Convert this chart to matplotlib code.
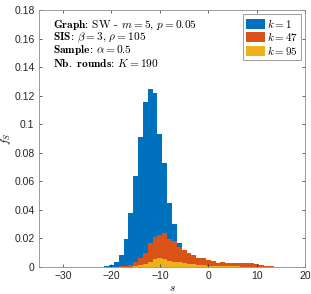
import numpy as np
import matplotlib
matplotlib.use("Agg")
import matplotlib.pyplot as plt

plt.rcParams['mathtext.fontset'] = 'cm'
plt.rcParams['font.family'] = ['Liberation Sans', 'DejaVu Sans']

# histogram bins (centres, width 1)
s_bins = np.arange(-22, 17)

# k = 1
f_k1 = [0.0002, 0.0006, 0.0016, 0.0037, 0.0084, 0.0194, 0.038, 0.064, 0.091,
        0.1153, 0.1245, 0.122, 0.093, 0.0726, 0.045, 0.030, 0.017, 0.008,
        0.004, 0.002, 0.001, 0.0005, 0, 0, 0, 0, 0, 0, 0, 0, 0, 0, 0, 0, 0,
        0, 0, 0, 0]
# k = 47
f_k47 = [0, 0, 0, 0.0002, 0.0004, 0.0008, 0.0015, 0.0035, 0.006, 0.0098,
         0.0168, 0.0208, 0.0222, 0.0236, 0.0194, 0.0184, 0.0142, 0.0122,
         0.0100, 0.0084, 0.0065, 0.0062, 0.0050, 0.0040, 0.0028, 0.0033,
         0.0025, 0.0025, 0.0026, 0.0028, 0.0030, 0.0028, 0.0018, 0.0012,
         0.0008, 0.0005, 0.0003, 0.0002, 0.0001]
# k = 95
f_k95 = [0, 0, 0, 0, 0, 0.0001, 0.0003, 0.0006, 0.0013, 0.0022, 0.0037,
         0.0054, 0.0065, 0.0057, 0.0042, 0.0035, 0.0033, 0.0028, 0.0022,
         0.0020, 0.0016, 0.0014, 0.0010, 0.0008, 0.0007, 0.0006, 0.0005,
         0.0004, 0.0004, 0.0003, 0.0003, 0.0002, 0.0002, 0.0001, 0, 0, 0,
         0, 0]

series = [(f_k1, '#0072BD', r'$k{=}1$'),
          (f_k47, '#D95319', r'$k{=}47$'),
          (f_k95, '#EDB120', r'$k{=}95$')]

info_lines = [
    r'$\mathbf{Graph}\text{: SW - }m = 5\text{, }p = 0.05$',
    r'$\mathbf{SIS}\text{: }\beta = 3\text{, }\rho = 105$',
    r'$\mathbf{Sample}\text{: }\alpha = 0.5$',
    r'$\mathbf{Nb.\ rounds}\text{: }K = 190$',
]

fig = plt.figure(figsize=(3.11, 2.94), dpi=100)
ax = fig.add_axes([0.1245, 0.0918, 0.857, 0.874])

for vals, col, lab in series:
    ax.bar(s_bins, vals, width=1.0, color=col, linewidth=0, label=lab)

ax.set_xlim(-35, 20)
ax.set_ylim(0, 0.18)
ax.set_xticks([-30, -20, -10, 0, 10, 20])
ax.set_yticks(np.arange(0, 0.181, 0.02))
ax.set_yticklabels(['0', '0.02', '0.04', '0.06', '0.08', '0.1', '0.12',
                    '0.14', '0.16', '0.18'])
ax.tick_params(direction='in', length=2.5, width=0.5, top=True, right=True,
               labelsize=7.5, colors='#262626', pad=3)
for sp in ax.spines.values():
    sp.set_color('#8c8c8c')
    sp.set_linewidth(0.6)

ax.set_xlabel(r'$s$', fontsize=8, labelpad=1)
ax.set_ylabel(r'$f_S$', fontsize=8)
ax.yaxis.set_label_coords(-0.098, 0.5)

y0 = 0.1695
for i, line in enumerate(info_lines):
    ax.text(-32, y0 - i * 0.0089, line, fontsize=8.2, va='center',
            ha='left', color='black')

leg = ax.legend(loc='upper right', fontsize=8, handlelength=1.7,
                handleheight=1.0, handletextpad=0.2, borderpad=0.25,
                labelspacing=0.05, borderaxespad=0.35, fancybox=False,
                framealpha=1)
leg.get_frame().set_edgecolor('#8c8c8c')
leg.get_frame().set_linewidth(0.6)

fig.savefig('out.png', dpi=100)
